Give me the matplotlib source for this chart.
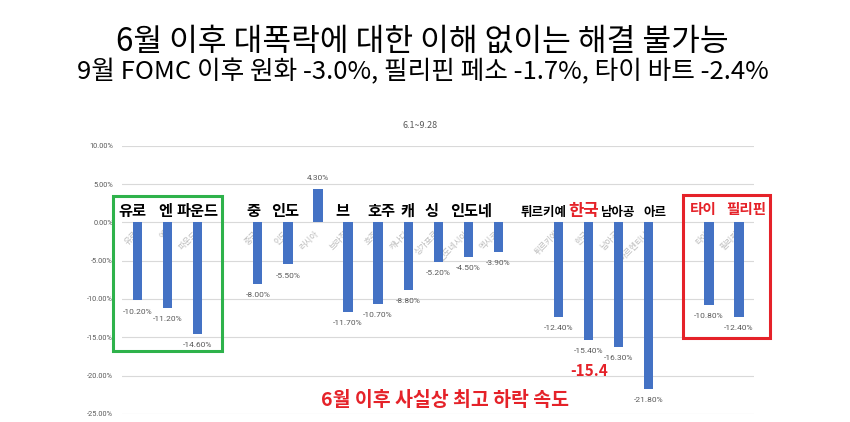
import numpy as np
import matplotlib
matplotlib.use('Agg')
import matplotlib.pyplot as plt
from matplotlib.patches import Rectangle

plt.rcParams['font.family'] = ['Noto Sans CJK KR', 'DejaVu Sans']

# data (6.1 ~ 9.28 change vs USD), '' = empty slot
categories = ['유로', '엔', '파운드', '', '중국', '인도', '러시아', '브라질', '호주',
              '캐나다', '싱가포르', '인도네시아', '멕시코', '', '튀르키예', '한국',
              '남아공', '아르헨티나', '', '타이', '필리핀']
values = [-10.2, -11.2, -14.6, np.nan, -8.0, -5.5, 4.3, -11.7, -10.7,
          -8.8, -5.2, -4.5, -3.9, np.nan, -12.4, -15.4,
          -16.3, -21.8, np.nan, -10.8, -12.4]
y_ticks = [10, 5, 0, -5, -10, -15, -20, -25]

# big overlay labels
big_labels = ['유로', '엔', '파운드', '중', '인도', '브', '호주', '캐', '싱', '인도네',
              '튀르키예', '한국', '남아공', '아르', '타이', '필리핀']

title = '6월 이후 대폭락에 대한 이해 없이는 해결 불가능'
subtitle = '9월 FOMC 이후 원화 -3.0%, 필리핀 페소 -1.7%, 타이 바트 -2.4%'
period = '6.1~9.28'
note = '6월 이후 사실상 최고 하락 속도'
korea_note = '-15.4'

BLUE = '#4472C4'
RED = '#E52229'
GREEN = '#2EB24B'

fig = plt.figure(figsize=(8.5, 4.22), dpi=100)
ax = fig.add_axes([0.1441, 0.0194, 0.743, 0.6353])

x = np.arange(len(categories))
vals = np.array(values, dtype=float)
ok = ~np.isnan(vals)
ax.bar(x[ok], vals[ok], width=0.31, color=BLUE, zorder=3)

# value labels
for xi, v in zip(x[ok], vals[ok]):
    ax.annotate(f'{v:.2f}%', (xi, v), xytext=(0, 8 if v > 0 else -8),
                textcoords='offset points', ha='center', va='center',
                fontsize=6, color='#595959', family=['Roboto', 'DejaVu Sans'])

# faint rotated category labels at the zero axis
for xi, name in zip(x, categories):
    if name:
        ax.annotate(name, (xi, 0), xytext=(-3, -5), textcoords='offset points',
                    rotation=45, ha='right', va='top', rotation_mode='anchor',
                    fontsize=6, color='#BDBDBD', zorder=2)

ax.set_xlim(-0.5, 20.5)
ax.set_ylim(-25, 10)
ax.set_yticks(y_ticks)
ax.set_yticklabels([f'{t:.2f}%' for t in y_ticks], family=['Roboto', 'DejaVu Sans'])
ax.tick_params(axis='y', length=0, labelsize=5.3, colors='#595959', pad=6.8)
ax.set_xticks([])
ax.yaxis.grid(True, color='#D9D9D9', lw=0.8)
ax.set_axisbelow(True)
for s in ax.spines.values():
    s.set_visible(False)

# overlay labels
label_x = [-0.17, 0.91, 2.01, 3.84, 4.91, 6.82, 8.10, 8.96, 9.76, 11.08,
           13.49, 14.85, 15.96, 17.21, 18.81, 20.23]
for name, lx in zip(big_labels, label_x):
    color, size, ly = 'black', 11, 1.5
    if name in ('튀르키예', '남아공', '아르'):
        size, ly = 9, 1.3
    if name == '한국':
        color, size = RED, 12
    if name in ('타이', '필리핀'):
        color, size, ly = RED, 10.5, 1.74
    ax.text(lx, ly, name, ha='center', va='center', fontsize=size,
            fontweight='bold', color=color, zorder=5, clip_on=False)

ax.add_patch(Rectangle((-0.815, -16.85), 3.625, 20.32, fill=False,
                       edgecolor=GREEN, lw=2.2, clip_on=False, zorder=6))
ax.add_patch(Rectangle((18.15, -15.07), 2.88, 18.63, fill=False,
                       edgecolor=RED, lw=2.2, clip_on=False, zorder=6))

ax.text(15.0, -19.4, korea_note, ha='center', va='center', fontsize=11,
        fontweight='bold', color=RED)
ax.text(10.23, -23.2, note, ha='center', va='center', fontsize=14,
        fontweight='bold', color=RED)

fig.text(0.497, 1 - 42 / 422, title, ha='center', va='center', fontsize=22.5)
fig.text(0.497, 1 - 72 / 422, subtitle, ha='center', va='center', fontsize=18.5)
fig.text(0.494, 1 - 125 / 422, period, ha='center', va='center', fontsize=6.5,
         color='#595959')

fig.savefig('out.png', dpi=100, facecolor='white')
